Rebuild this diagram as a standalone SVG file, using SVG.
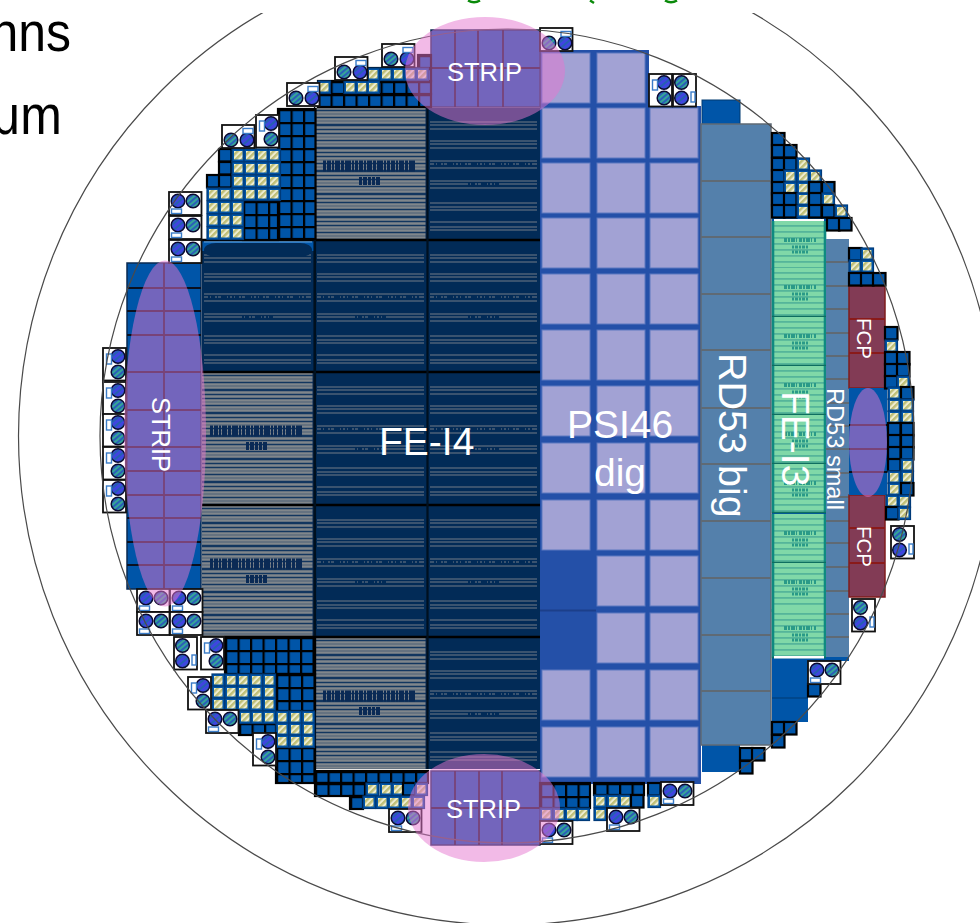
<svg xmlns="http://www.w3.org/2000/svg" xmlns:xlink="http://www.w3.org/1999/xlink" width="980" height="923" viewBox="0 0 980 923">
<style>
text{font-family:"Liberation Sans",Arial,sans-serif}
.w{fill:#fff}
.k{fill:#000;font-size:50px}
.wc{fill:none;stroke:#4a4a4a;stroke-width:1.2}
.gl{stroke:#727d88;stroke-width:1.2;fill:none}
.blk{fill:#022b57}
.sep{stroke:#5f6a74;stroke-width:2;fill:none}
.sl{stroke:#0a1020;stroke-width:1.8;fill:none}
.fcp{fill:#823b55;stroke:#7f1d1d;stroke-width:1.5}
.fl{stroke:#8a1a1a;stroke-width:2}
.pink{fill:#e575d0;fill-opacity:.5}
.grid{stroke:#000;stroke-width:2.2}
.p{fill:#a2a2d4;stroke:#5c78c0;stroke-width:1}
</style>
<defs>
<pattern id="gb" width="12.5" height="13" patternUnits="userSpaceOnUse"><rect width="12.5" height="13" fill="#0055a8"/><path d="M0 0H12.5M0 0V13" stroke="#000" stroke-width="4.4" fill="none"/></pattern>
<pattern id="hat" width="4.4" height="4.4" patternUnits="userSpaceOnUse" patternTransform="rotate(-45)"><rect width="4.4" height="4.4" fill="#eeeed2"/><rect width="4.4" height="2.4" fill="#bfbf78"/></pattern>
<pattern id="cbp" width="5" height="5" patternUnits="userSpaceOnUse" patternTransform="rotate(-40)"><rect width="5" height="5" fill="#3f45e0"/><rect width="5" height="2" fill="#2560b0"/></pattern>
<pattern id="ctp" width="4" height="4" patternUnits="userSpaceOnUse" patternTransform="rotate(-40)"><rect width="4" height="4" fill="#2a5fb8"/><rect width="4" height="2" fill="#35a598"/></pattern>
<pattern id="gs" width="112" height="23" patternUnits="userSpaceOnUse"><rect width="112" height="23" fill="#12365f"/><path d="M0 1.5H112M0 5.5H112M0 8.5H112M0 12.5H112M0 15.5H112M0 20.5H112" stroke="#80868b" stroke-width="2.4"/></pattern>
<pattern id="gr" width="54" height="6" patternUnits="userSpaceOnUse"><rect width="54" height="6" fill="#80d8a8"/><rect y="4" width="54" height="1.8" fill="#55b59a"/></pattern>
<g id="b"><rect width="12.5" height="12.5" fill="#0055a8" stroke="#000" stroke-width="2.2"/></g>
<g id="h"><rect width="12.5" height="12.5" fill="#0055a8" stroke="#003a78" stroke-width="1.2"/><rect x="2" y="2" width="8.5" height="8.5" fill="url(#hat)"/></g>
<circle id="cb" r="6.8" fill="url(#cbp)" stroke="#0a0a30" stroke-width="1.5"/>
<circle id="ct" r="6.8" fill="url(#ctp)" stroke="#0a0a30" stroke-width="1.5"/>
<g id="chTop"><rect width="32.5" height="23" fill="#fff" stroke="#111" stroke-width="1.8"/><use href="#ct" x="9" y="15"/><use href="#cb" x="25" y="15"/><rect x="21" y="3.5" width="10" height="5" fill="#fff" stroke="#3a7cc8" stroke-width="1.4"/></g>
<g id="chBot"><rect width="32.5" height="23" fill="#fff" stroke="#111" stroke-width="1.8"/><use href="#cb" x="9" y="9"/><use href="#ct" x="24" y="9"/><rect x="2.5" y="17" width="10" height="4.5" fill="#fff" stroke="#3a7cc8" stroke-width="1.4"/></g>
<g id="chL"><rect width="23" height="32.5" fill="#fff" stroke="#111" stroke-width="1.8"/><use href="#cb" x="15" y="8.5"/><use href="#ct" x="15" y="24"/><rect x="3.5" y="6" width="5" height="10" fill="#fff" stroke="#3a7cc8" stroke-width="1.4"/></g>
<g id="chR"><rect width="23" height="32.5" fill="#fff" stroke="#111" stroke-width="1.8"/><use href="#ct" x="8.5" y="8.5"/><use href="#cb" x="8.5" y="24"/><rect x="18" y="18" width="4" height="10" fill="#fff" stroke="#3a7cc8" stroke-width="1.4"/></g>
<g id="dk"><rect width="112" height="132" class="blk"/><path class="gl" d="M2 15H109M2 18H109M2 22H109M2 34H109M2 37H109M2 41H109M2 54H109M2 57H109M2 61H109M2 74H109M2 77H109M2 81H109M2 96H109M2 100H109M2 103H109M2 115H109M2 120H109M2 123H109"/><path d="M6 57H104M40 77H72" stroke="#022b57" stroke-width="2.5" stroke-dasharray="2 1 4 2 1 3 6 1 2 2" fill="none"/></g>
<g id="gy"><rect width="112" height="132" fill="url(#gs)"/><path d="M8 59H100" stroke="#0a2a55" stroke-width="11" stroke-dasharray="3 1 4 1 2 1 5 1 3 1 6 1 2 1" fill="none"/><path d="M44 74H66" stroke="#0a2a55" stroke-width="8" stroke-dasharray="3 1 4 1 3 1" fill="none"/><path d="M111.500 0V132" stroke="#0a2a55" stroke-width="2"/></g>
<g id="gt"><rect width="54" height="49" fill="url(#gr)"/><path d="M12 19H44" stroke="#2a9a88" stroke-width="4" stroke-dasharray="3 1 2 1 4 1 1 2"/><path d="M20 26H36M20 31H36" stroke="#2a9a88" stroke-width="3" stroke-dasharray="2 1 3 1"/><path d="M1 0V49M53 0V49" stroke="#0f8a80" stroke-width="2.6"/><path d="M0 48.500H54" stroke="#0e6e60" stroke-width="1.6"/></g>
<rect id="pt" width="48" height="50" class="p"/>
</defs>
<rect width="980" height="923" fill="#fff"/>

<circle id="outer-ring" class="wc" cx="507.500" cy="436" r="489"/>
<rect x="0" y="0" width="980" height="13" fill="#fff"/>

<g id="slide-text">
<text class="k" transform="translate(71,51) scale(1,1.12)" text-anchor="end">nns</text>
<text class="k" transform="translate(62,134) scale(1,1.12)" text-anchor="end">μm</text>
<path d="M468 0.500Q474 4 480 0.500M590 0.500L594 3M665 0.500Q671 4 677 0.500" stroke="#0a8a0a" stroke-width="2.5" fill="none"/>
</g>

<g id="fe-i4">
<use href="#dk" x="202" y="240"/>
<rect x="202" y="240" width="112" height="11" fill="#0055a8"/><rect x="204" y="241" width="108" height="1.500" fill="#5aa0e0"/><rect x="204" y="243" width="108" height="14" rx="12" class="blk"/>
<use href="#gy" x="202" y="372"/><use href="#gy" x="202" y="505"/>
<use href="#gy" x="315" y="107"/><use href="#dk" x="315" y="240"/><use href="#dk" x="315" y="372"/><use href="#dk" x="315" y="505"/><use href="#gy" x="315" y="637"/>
<use href="#dk" x="428" y="107"/><use href="#dk" x="428" y="240"/><use href="#dk" x="428" y="372"/><use href="#dk" x="428" y="505"/><use href="#dk" x="428" y="637"/>
<path d="M202 240H540M202 372H540M202 505H540M202 637H540" stroke="#000" stroke-width="2.4" fill="none"/>
<path d="M315 107V769M427.500 107V769" stroke="#00101f" stroke-width="2.2" fill="none"/>
<path d="M314.500 240V637" stroke="#00101f" stroke-width="2" fill="none"/>
<path d="M315 107H540" stroke="#fff" stroke-width="1.500"/>
</g>

<g id="psi46">
<rect x="540" y="50" width="109" height="58" fill="#2450a8"/>
<rect x="540" y="106" width="161" height="678" fill="#2450a8"/>
<use href="#pt" x="542" y="53"/><use href="#pt" x="597" y="53"/>
<use href="#pt" x="542" y="108"/><use href="#pt" x="597" y="108"/><use href="#pt" x="650" y="108"/>
<use href="#pt" x="542" y="163"/><use href="#pt" x="597" y="163"/><use href="#pt" x="650" y="163"/>
<use href="#pt" x="542" y="218"/><use href="#pt" x="597" y="218"/><use href="#pt" x="650" y="218"/>
<use href="#pt" x="542" y="274"/><use href="#pt" x="597" y="274"/><use href="#pt" x="650" y="274"/>
<use href="#pt" x="542" y="330"/><use href="#pt" x="597" y="330"/><use href="#pt" x="650" y="330"/>
<use href="#pt" x="542" y="386"/><use href="#pt" x="597" y="386"/><use href="#pt" x="650" y="386"/>
<use href="#pt" x="542" y="443"/><use href="#pt" x="597" y="443"/><use href="#pt" x="650" y="443"/>
<use href="#pt" x="542" y="500"/><use href="#pt" x="597" y="500"/><use href="#pt" x="650" y="500"/>
<use href="#pt" x="597" y="556"/><use href="#pt" x="650" y="556"/>
<use href="#pt" x="597" y="613"/><use href="#pt" x="650" y="613"/>
<use href="#pt" x="542" y="670"/><use href="#pt" x="597" y="670"/><use href="#pt" x="650" y="670"/>
<use href="#pt" x="542" y="727"/><use href="#pt" x="597" y="727"/><use href="#pt" x="650" y="727"/>
<path d="M540 610.500H596" stroke="#1c3f8a" stroke-width="2"/>
</g>

<g id="rd53-big">
<rect x="702" y="100" width="38" height="25" fill="#0055a8" stroke="#003a70"/>
<rect x="702" y="745" width="38" height="27" fill="#0055a8"/>
<rect x="701" y="124" width="70" height="621" fill="#5480ab" stroke="#5f6a74" stroke-width="1.500"/>
<path class="sep" d="M701 181H771M701 237H771M701 294H771M701 350H771M701 408H771M701 464H771M701 521H771M701 578H771M701 635H771M701 691H771"/>
</g>

<g id="fe-i3">
<rect x="772" y="216" width="54" height="445" fill="#0055a8"/>
<rect x="774" y="219" width="50" height="2.500" fill="#fff"/>
<use href="#gt" x="772" y="221"/><use href="#gt" x="772" y="268"/><use href="#gt" x="772" y="317"/><use href="#gt" x="772" y="366"/><use href="#gt" x="772" y="415"/><use href="#gt" x="772" y="464"/><use href="#gt" x="772" y="514"/><use href="#gt" x="772" y="563"/><use href="#gt" x="772" y="609"/>
<rect x="774" y="656" width="50" height="2.500" fill="#fff"/>
</g>

<g id="rd53-small">
<rect x="826" y="239" width="23" height="422" fill="#5480ab"/>
<rect x="826" y="657" width="23" height="4" fill="#0055a8"/>
<path class="sep" d="M826 262H849M826 286H849M826 309H849M826 333H849M826 356H849M826 379H849M826 403H849M826 426H849M826 449H849M826 473H849M826 497H849M826 521H849M826 543H849M826 567H849M826 591H849M826 614H849M826 637H849"/>
</g>

<g id="fcp-upper"><rect class="fcp" x="849" y="286" width="36" height="102"/><path class="fl" d="M849 319H885M849 353H885"/></g>
<g id="fcp-lower"><rect class="fcp" x="849" y="495" width="36" height="102"/><path class="fl" d="M849 528H885M849 563H885"/></g>
<g id="strip-right"><rect x="849" y="388" width="38" height="107" fill="#0055a8"/><path class="sl" d="M849 425H887M849 449H887M849 472H887"/></g>

<g id="strip-left"><rect x="127" y="263" width="74" height="326" fill="#0055a8" stroke="#0a2a50" stroke-width="1.500"/><path class="sl" d="M127 288H201M127 311H201M127 335H201M127 372H201M127 410H201M127 447H201M127 471H201M127 495H201M127 518H201M127 542H201M127 565H201M164 263V589"/></g>
<g id="strip-top"><rect x="431" y="30" width="109" height="77" fill="#0055a8" stroke="#0a2a50" stroke-width="1.500"/><path class="sl" d="M455 30V107M478 30V107M503 30V107M431 68H540"/></g>
<g id="strip-bottom"><rect x="431" y="771" width="109" height="74" fill="#0055a8" stroke="#0a2a50" stroke-width="1.500"/><path class="sl" d="M455 771V845M479 771V845M502 771V845M431 808H540"/></g>

<g id="cells">
<g class="grid" fill="url(#gb)">
<rect transform="translate(278,109)" width="37.500" height="130"/>
<rect transform="translate(243,201)" width="35" height="39"/>
<rect transform="translate(318,94)" width="113" height="13"/>
<rect transform="translate(318,81)" width="113" height="13"/>
<rect transform="translate(368,68)" width="63" height="13"/>
<rect transform="translate(418,55)" width="13" height="13"/>
<rect transform="translate(225,637)" width="90" height="37"/>
<rect transform="translate(276,674)" width="39" height="37"/>
<rect transform="translate(239,723)" width="37" height="12"/>
<rect transform="translate(276,747)" width="39" height="36"/>
<rect transform="translate(315,771)" width="113" height="12"/>
<rect transform="translate(315,783)" width="50" height="13"/>
<rect transform="translate(350,796)" width="13" height="13"/>
<rect transform="translate(540,783)" width="50" height="25"/>
<rect transform="translate(594,783)" width="50" height="12"/>
</g>
<use href="#b" x="219" y="149"/><use href="#b" x="219" y="162"/><use href="#b" x="207" y="175"/><use href="#b" x="219" y="175"/>
<use href="#h" x="232" y="149"/><use href="#h" x="244" y="149"/><use href="#h" x="256" y="149"/><use href="#h" x="268" y="149"/>
<use href="#h" x="232" y="162"/><use href="#h" x="244" y="162"/><use href="#h" x="256" y="162"/><use href="#h" x="268" y="162"/>
<use href="#h" x="232" y="175"/><use href="#h" x="244" y="175"/><use href="#h" x="256" y="175"/><use href="#h" x="268" y="175"/>
<use href="#h" x="207" y="188"/><use href="#h" x="219" y="188"/><use href="#h" x="232" y="188"/><use href="#h" x="244" y="188"/><use href="#h" x="256" y="188"/><use href="#h" x="268" y="188"/>
<use href="#h" x="207" y="201"/><use href="#h" x="219" y="201"/><use href="#h" x="231" y="201"/>
<use href="#h" x="207" y="214"/><use href="#h" x="219" y="214"/><use href="#h" x="231" y="214"/>
<use href="#h" x="207" y="227"/><use href="#h" x="219" y="227"/><use href="#h" x="231" y="227"/>
<use href="#h" x="318" y="81"/><use href="#h" x="344" y="81"/><use href="#h" x="356" y="81"/><use href="#h" x="367" y="81"/>
<use href="#h" x="367" y="68"/><use href="#h" x="380" y="68"/><use href="#h" x="392" y="68"/><use href="#h" x="404" y="68"/><use href="#h" x="416" y="68"/>
<use href="#b" x="772" y="133"/><use href="#b" x="772" y="145"/><use href="#b" x="784" y="145"/>
<use href="#b" x="772" y="158"/><use href="#b" x="784" y="158"/><use href="#h" x="797" y="158"/>
<use href="#b" x="772" y="170"/><use href="#h" x="784" y="170"/><use href="#h" x="797" y="170"/><use href="#h" x="809" y="170"/>
<use href="#b" x="772" y="182"/><use href="#h" x="784" y="182"/><use href="#h" x="797" y="182"/><use href="#b" x="809" y="182"/><use href="#b" x="822" y="182"/>
<use href="#b" x="772" y="193"/><use href="#b" x="784" y="193"/><use href="#h" x="797" y="193"/><use href="#b" x="809" y="193"/><use href="#h" x="822" y="193"/>
<use href="#b" x="772" y="205"/><use href="#b" x="784" y="205"/><use href="#h" x="797" y="205"/><use href="#b" x="809" y="205"/><use href="#b" x="822" y="205"/><use href="#h" x="835" y="205"/>
<use href="#b" x="827" y="218"/><use href="#b" x="839" y="218"/>
<use href="#b" x="849" y="248"/><use href="#h" x="861" y="248"/><use href="#h" x="849" y="260"/><use href="#h" x="861" y="260"/><use href="#b" x="849" y="273"/><use href="#b" x="861" y="273"/><use href="#b" x="873" y="273"/>
<use href="#b" x="885" y="327"/><use href="#h" x="885" y="340"/><use href="#b" x="885" y="352"/><use href="#b" x="897" y="352"/><use href="#b" x="885" y="364"/><use href="#b" x="897" y="364"/><use href="#b" x="885" y="376"/><use href="#h" x="897" y="376"/>
<use href="#h" x="888" y="387"/><use href="#b" x="901" y="387"/>
<use href="#h" x="888" y="399"/><use href="#h" x="901" y="399"/>
<use href="#h" x="888" y="411"/><use href="#h" x="901" y="411"/>
<use href="#b" x="888" y="423"/><use href="#b" x="901" y="423"/>
<use href="#b" x="888" y="435"/><use href="#b" x="901" y="435"/>
<use href="#b" x="888" y="447"/><use href="#b" x="901" y="447"/>
<use href="#b" x="888" y="459"/><use href="#h" x="901" y="459"/>
<use href="#h" x="888" y="471"/><use href="#h" x="901" y="471"/>
<use href="#h" x="888" y="483"/><use href="#b" x="901" y="483"/>
<use href="#h" x="886" y="495"/><use href="#h" x="898" y="495"/><use href="#b" x="886" y="507"/><use href="#h" x="898" y="507"/>
<rect x="772" y="660" width="36" height="62" fill="#0055a8"/><path d="M772 698H808" stroke="#003a70" stroke-width="1.200"/>
<use href="#b" x="808" y="684"/>
<use href="#b" x="772" y="722"/><use href="#b" x="784" y="722"/><use href="#b" x="772" y="735"/>
<use href="#b" x="740" y="748"/><use href="#b" x="752" y="748"/><use href="#b" x="740" y="761"/>
<use href="#h" x="212" y="674"/><use href="#h" x="225" y="674"/><use href="#h" x="237" y="674"/><use href="#h" x="250" y="674"/><use href="#h" x="263" y="674"/>
<use href="#h" x="212" y="686"/><use href="#h" x="225" y="686"/><use href="#h" x="237" y="686"/><use href="#h" x="250" y="686"/><use href="#h" x="263" y="686"/>
<use href="#h" x="212" y="698"/><use href="#h" x="225" y="698"/><use href="#h" x="237" y="698"/><use href="#h" x="250" y="698"/><use href="#h" x="263" y="698"/>
<use href="#h" x="239" y="711"/><use href="#h" x="251" y="711"/><use href="#h" x="263" y="711"/>
<use href="#h" x="276" y="711"/><use href="#h" x="289" y="711"/><use href="#h" x="302" y="711"/>
<use href="#h" x="276" y="723"/><use href="#h" x="289" y="723"/><use href="#h" x="302" y="723"/>
<use href="#h" x="276" y="735"/><use href="#h" x="289" y="735"/><use href="#h" x="302" y="735"/>
<use href="#h" x="366" y="783"/><use href="#h" x="380" y="783"/><use href="#h" x="392" y="783"/><use href="#b" x="403" y="783"/><use href="#h" x="415" y="783"/>
<use href="#h" x="363" y="796"/><use href="#h" x="376" y="796"/><use href="#h" x="388" y="796"/><use href="#h" x="400" y="796"/><use href="#h" x="412" y="796"/>
<use href="#h" x="540" y="808"/><use href="#h" x="553" y="808"/><use href="#h" x="565" y="808"/><use href="#h" x="577" y="808"/>
<use href="#h" x="594" y="795"/><use href="#h" x="607" y="795"/><use href="#h" x="619" y="795"/><use href="#b" x="631" y="795"/>
<use href="#h" x="594" y="808"/>
<use href="#b" x="648" y="783"/><use href="#h" x="648" y="795"/>
</g>

<g id="chips">
<use href="#chTop" x="287" y="83"/><use href="#chTop" x="222" y="125"/><use href="#chL" x="256" y="115"/>
<use href="#chTop" x="335" y="57"/><use href="#chTop" x="382" y="44"/><use href="#chTop" x="540" y="28"/>
<use href="#chL" x="649" y="74"/><use href="#chR" x="673" y="74"/>
<use href="#chBot" x="169" y="192"/><use href="#chBot" x="169" y="216"/><use href="#chBot" x="169" y="240"/>
<use href="#chL" x="103" y="348"/><use href="#chL" x="103" y="382"/><use href="#chL" x="103" y="414"/><use href="#chL" x="103" y="447"/><use href="#chL" x="103" y="480"/>
<use href="#chBot" x="137" y="589"/><use href="#chBot" x="170" y="589"/><use href="#chBot" x="137" y="612"/><use href="#chBot" x="170" y="612"/>
<use href="#chR" x="174" y="637"/><use href="#chL" x="201" y="637"/><use href="#chL" x="188" y="677"/>
<use href="#chBot" x="206" y="710"/><use href="#chL" x="253" y="733"/>
<use href="#chBot" x="389" y="809"/><use href="#chBot" x="540" y="821"/><use href="#chBot" x="607" y="808"/><use href="#chBot" x="661" y="782"/>
<use href="#chR" x="891" y="526"/><use href="#chR" x="852" y="599"/><use href="#chBot" x="808" y="661"/>
</g>

<circle id="wafer-edge" class="wc" cx="507" cy="436" r="407"/>

<g id="strip-overlays">
<ellipse class="pink" cx="485" cy="71" rx="80" ry="54"/>
<ellipse class="pink" cx="484" cy="808" rx="76" ry="54"/>
<ellipse class="pink" cx="165" cy="433.500" rx="41" ry="173"/>
<ellipse class="pink" cx="868" cy="442.500" rx="19" ry="54.500"/>
</g>

<g id="labels" class="w">
<text x="379" y="455" font-size="39">FE-I4</text>
<text x="620" y="438" font-size="39" text-anchor="middle">PSI46</text>
<text x="620" y="486" font-size="39" text-anchor="middle">dig</text>
<text transform="translate(719,353) rotate(90)" font-size="39.500">RD53 big</text>
<text transform="translate(782,391) rotate(90)" font-size="39">FE-I3</text>
<text transform="translate(827,388) rotate(90)" font-size="23.600">RD53 small</text>
<text transform="translate(857,318) rotate(90)" font-size="20.500">FCP</text>
<text transform="translate(857,526) rotate(90)" font-size="20.500">FCP</text>
<text x="447" y="81" font-size="25.500">STRIP</text>
<text x="446" y="818" font-size="25.500">STRIP</text>
<text transform="translate(152,397) rotate(90)" font-size="25.500">STRIP</text>
</g>
</svg>
